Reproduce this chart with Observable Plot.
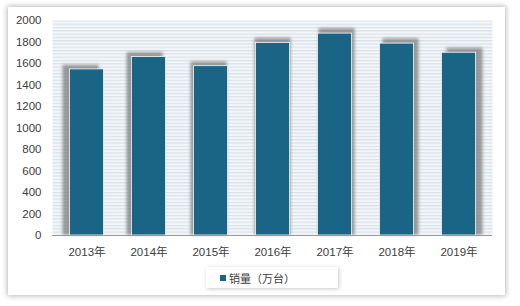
<!DOCTYPE html>
<html><head><meta charset="utf-8">
<script src="https://cdn.jsdelivr.net/npm/d3@7"></script>
<script src="https://cdn.jsdelivr.net/npm/@observablehq/plot@0.6"></script>
<style>
body{margin:0;width:520px;height:306px;background:#fff;position:relative;overflow:hidden;font-family:"Liberation Sans","Noto Sans CJK SC",sans-serif;}
#card{position:absolute;left:8px;top:7px;width:497px;height:288px;background:#fff;box-shadow:0 0 5px 1px rgba(0,0,0,.28);}
#chart{position:absolute;left:0;top:0;}
#legend{position:absolute;left:206px;top:267px;width:132px;height:21px;background:#fff;box-shadow:1px 1px 4px rgba(0,0,0,.22);font-size:11px;color:#404040;display:flex;align-items:center;box-sizing:border-box;padding-left:14px;font-family:"Noto Sans CJK SC",sans-serif;}
#legend .sw{width:6px;height:6px;background:#1a6485;margin-right:3px;}
</style>
</head><body>
<div id="card"></div>
<div id="chart"></div>
<div id="legend"><span class="sw"></span><span>销量（万台）</span></div>
<script>
const years = ["2013年","2014年","2015年","2016年","2017年","2018年","2019年"];
const sales = [1545, 1660, 1575, 1790, 1878, 1785, 1700];
const yTicks = [0,200,400,600,800,1000,1200,1400,1600,1800,2000];
const seriesName = "销量（万台）";

const data = years.map((y,i)=>({year:y, value:sales[i]}));

const chart = Plot.plot({
  width: 520, height: 262,
  marginLeft: 52, marginRight: 28, marginTop: 20, marginBottom: 27,
  style: {background:"transparent", fontFamily:"'Liberation Sans','Noto Sans CJK SC',sans-serif", fontSize:"11.5px", color:"#404040"},
  x: {domain: years, paddingInner: 0.44, paddingOuter: 0.22, label: null, tickSize: 0, tickPadding: 12},
  y: {domain: [0, 2000], ticks: yTicks, tickFormat: d => String(d), label: null, tickSize: 0, tickPadding: 11},
  marks: [
    Plot.frame({fill: "url(#stripes)", stroke: null}),
    Plot.barY(data, {x: "year", y: "value", fill: "#707070", fillOpacity: 0.68}),
    Plot.barY(data, {x: "year", y: "value", fill: "#1a6485", stroke: "#f4f8fa", strokeWidth: 0.8, insetLeft: 0.4, insetRight: 0.4}),
    Plot.ruleY([0], {stroke: "#9a9a9a", strokeWidth: 1.2})
  ]
});

const svg = d3.select(chart);
const defs = svg.insert("defs", ":first-child");
const pat = defs.append("pattern").attr("id","stripes").attr("patternUnits","userSpaceOnUse").attr("width",8).attr("height",3.3);
pat.append("rect").attr("width",8).attr("height",3.3).attr("fill","#f3f6f8");
pat.append("rect").attr("y",0).attr("width",8).attr("height",1.2).attr("fill","#d9e2e9");
const f = defs.append("filter").attr("id","blur").attr("x","-30%").attr("y","-30%").attr("width","160%").attr("height","160%");
f.append("feGaussianBlur").attr("stdDeviation",1.5);
const barGroups = svg.selectAll("g[aria-label=bar]").nodes();
const wrap = svg.insert("g", () => barGroups[0])
  .attr("transform","translate(272,235) scale(1.032,1.025) translate(-272,-235)")
  .attr("filter","url(#blur)");
wrap.node().appendChild(barGroups[0]);
document.getElementById("chart").appendChild(chart);
</script>
</body></html>
